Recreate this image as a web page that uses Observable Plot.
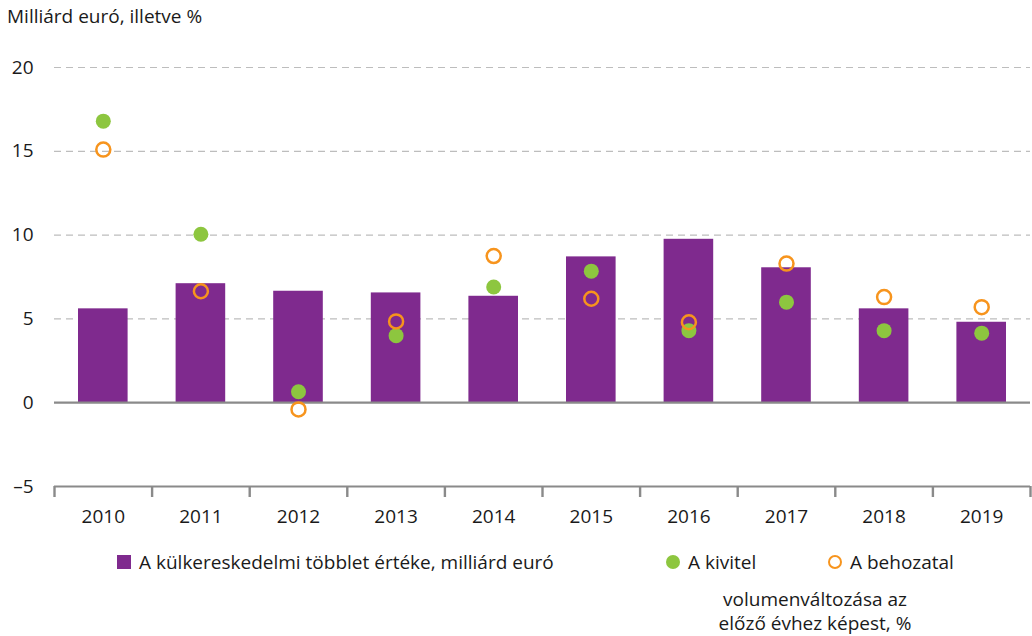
<!DOCTYPE html>
<html>
<head>
<meta charset="utf-8">
<script src="https://cdn.jsdelivr.net/npm/d3@7"></script>
<script src="https://cdn.jsdelivr.net/npm/@observablehq/plot@0.6"></script>
<style>
  html, body { margin: 0; padding: 0; background: #fff; }
  body { width: 1032px; height: 636px; position: relative; overflow: hidden; font-family: "Open Sans", "Noto Sans", sans-serif; color: #1a1a1a; }
  #title { position: absolute; left: 7px; top: 3px; font-size: 19px; }
  #chart { position: absolute; left: 0; top: 40px; }
  .leg { position: absolute; font-size: 19px; white-space: nowrap; }
  .sw { display: inline-block; vertical-align: middle; margin-right: 8px; position: relative; top: -2px; }
</style>
</head>
<body>
<div id="title">Milliárd euró, illetve %</div>
<div id="chart"></div>
<div class="leg" style="left:117px; top:549px;"><span class="sw" style="width:14px;height:14px;background:#7F2A8E;"></span>A külkereskedelmi többlet értéke, milliárd euró</div>
<div class="leg" style="left:666px; top:549px;"><span class="sw" style="width:14px;height:14px;border-radius:50%;background:#8DC63F;"></span>A kivitel</div>
<div class="leg" style="left:828px; top:549px;"><span class="sw" style="width:10px;height:10px;border-radius:50%;border:2.5px solid #F7941D;"></span>A behozatal</div>
<div class="leg" style="left:700px; top:587px; text-align:center; width:230px; line-height:24px; white-space:normal;">volumenváltozása az<br>előző évhez képest, %</div>
<script>
const years = [2010, 2011, 2012, 2013, 2014, 2015, 2016, 2017, 2018, 2019];
const surplus = [5.6, 7.1, 6.65, 6.55, 6.35, 8.7, 9.75, 8.05, 5.6, 4.8];
const exportVol = [16.8, 10.05, 0.65, 4.0, 6.9, 7.85, 4.3, 6.0, 4.3, 4.15];
const importVol = [15.1, 6.65, -0.4, 4.85, 8.75, 6.2, 4.8, 8.3, 6.3, 5.7];
const yTicks = [-5, 0, 5, 10, 15, 20];
const gridLines = [5, 10, 15, 20];

const data = years.map((y, i) => ({year: y, surplus: surplus[i], exp: exportVol[i], imp: importVol[i]}));
const bounds = years.map(y => y - 0.5).concat([years[years.length - 1] + 0.5]);

const chart = Plot.plot({
  width: 1032,
  height: 500,
  marginTop: 27,
  marginBottom: 54,
  marginLeft: 54,
  marginRight: 2,
  style: {fontFamily: "'Open Sans', 'Noto Sans', sans-serif", fontSize: "19px", color: "#1a1a1a", background: "#fff"},
  x: {type: "linear", domain: [2009.5, 2019.5], label: null},
  y: {domain: [-5, 20], label: null},
  marks: [
    Plot.ruleY(gridLines, {stroke: "#bdbdbd", strokeWidth: 1.2, strokeDasharray: "7,5"}),
    Plot.rectY(data, {x1: d => d.year - 0.5, x2: d => d.year + 0.5, y1: 0, y2: "surplus", fill: "#7F2A8E", insetLeft: 24, insetRight: 24}),
    Plot.ruleY([0], {stroke: "#8a8a8a", strokeWidth: 2.2}),
    Plot.ruleY([-5], {stroke: "#8a8a8a", strokeWidth: 2.2}),
    Plot.axisX({ticks: bounds, tickSize: 11, tickFormat: () => "", stroke: "#8a8a8a", strokeWidth: 2.4, label: null}),
    Plot.axisX({ticks: years, tickSize: 0, tickPadding: 23, tickFormat: d => String(d), fill: "#1a1a1a", label: null}),
    Plot.axisY({ticks: yTicks, tickSize: 0, tickPadding: 21, tickFormat: d => d < 0 ? "–" + Math.abs(d) : String(d), fill: "#1a1a1a", label: null}),
    Plot.dot(data, {x: "year", y: "exp", r: 7.5, fill: "#8DC63F", stroke: "none"}),
    Plot.dot(data, {x: "year", y: "imp", r: 7, fill: "none", stroke: "#F7941D", strokeWidth: 2.5})
  ]
});
document.getElementById("chart").appendChild(chart);
</script>
</body>
</html>
